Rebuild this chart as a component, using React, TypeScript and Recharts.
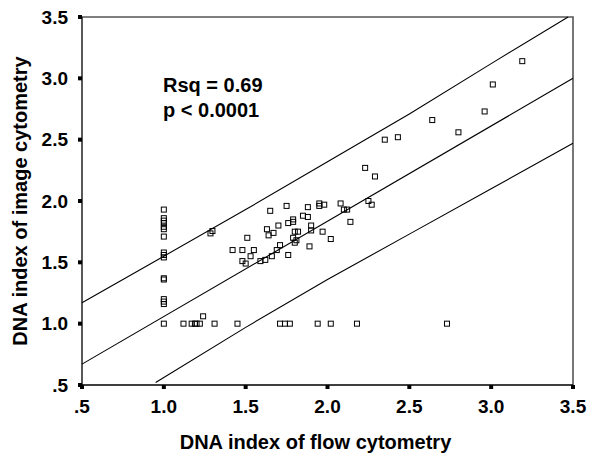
import { ScatterChart, Scatter, XAxis, YAxis } from 'recharts'

// flow cytometry DNA index (x) vs image cytometry DNA index (y)
const flowIndex = [
  1.0, 1.0, 1.0, 1.0, 1.0, 1.0, 1.0, 1.0, 1.0, 1.0, 1.0, 1.0, 1.0, 1.0, 1.0, 1.0,
  1.12, 1.17, 1.19, 1.2, 1.22, 1.31, 1.45, 1.71, 1.74, 1.77, 1.94, 2.02, 2.18, 2.73,
  1.24, 1.285, 1.297,
  1.42, 1.48, 1.55, 1.51, 1.48, 1.5, 1.53, 1.59, 1.62, 1.66, 1.69, 1.71, 1.76,
  1.63, 1.64, 1.67, 1.65, 1.7, 1.75, 1.76, 1.79, 1.79, 1.8, 1.82, 1.79, 1.81, 1.8,
  1.85, 1.88, 1.88, 1.9, 1.9, 1.89, 1.95, 1.95, 1.98, 1.97, 2.02, 2.08, 2.1, 2.12,
  2.14, 2.23, 2.29, 2.25, 2.27, 2.35, 2.43, 2.64, 2.8, 2.96, 3.01, 3.19,
]
const imageIndex = [
  1.93, 1.86, 1.84, 1.82, 1.79, 1.77, 1.71, 1.58, 1.56, 1.54, 1.37, 1.36, 1.2, 1.18, 1.16, 1.0,
  1.0, 1.0, 1.0, 1.0, 1.0, 1.0, 1.0, 1.0, 1.0, 1.0, 1.0, 1.0, 1.0, 1.0,
  1.06, 1.736, 1.755,
  1.6, 1.6, 1.6, 1.7, 1.51, 1.49, 1.55, 1.51, 1.52, 1.55, 1.6, 1.64, 1.56,
  1.77, 1.72, 1.74, 1.92, 1.8, 1.96, 1.82, 1.83, 1.85, 1.75, 1.75, 1.7, 1.68, 1.66,
  1.88, 1.87, 1.95, 1.8, 1.76, 1.63, 1.98, 1.96, 1.97, 1.75, 1.69, 1.98, 1.93, 1.93,
  1.83, 2.27, 2.2, 2.0, 1.97, 2.5, 2.52, 2.66, 2.56, 2.73, 2.95, 3.14,
]

// fit line and 95% interval lines
const fitX = [0.5, 3.5]
const fitY = [0.67, 3.0]
const upperX = [0.5, 1.0, 1.5, 2.0, 2.5, 3.0, 3.47]
const upperY = [1.17, 1.55, 1.93, 2.32, 2.71, 3.12, 3.5]
const lowerX = [0.95, 1.5, 2.0, 2.5, 3.0, 3.5]
const lowerY = [0.52, 0.97, 1.36, 1.73, 2.1, 2.47]

// plot frame corners (in data units)
const axesX = [0.5, 0.5, 3.5]
const axesY = [3.5, 0.5, 0.5]
const frameX = [0.5, 3.5, 3.5]
const frameY = [3.5, 3.5, 0.5]

const ticks = [0.5, 1.0, 1.5, 2.0, 2.5, 3.0, 3.5]
const tickLabels = ['.5', '1.0', '1.5', '2.0', '2.5', '3.0', '3.5']
const statsLines = ['Rsq = 0.69', 'p < 0.0001']

const points = flowIndex.map((x, i) => ({ x, y: imageIndex[i] }))
const toRows = (xs: number[], ys: number[]) => xs.map((x, i) => ({ x, y: ys[i] }))

const FONT = '"Liberation Sans", Arial, sans-serif'
const fmt = (v: number) => tickLabels[ticks.indexOf(v)] ?? String(v)

const XTick = (props: any) => {
  const { x, y, payload } = props
  return (
    <g>
      <rect x={x - 2} y={y - 15} width={4} height={4} fill="#000" />
      <text x={x} y={y} dy="0.71em" textAnchor="middle" fontSize={19} fontWeight="bold" fontFamily={FONT} fill="#000">
        {fmt(payload.value)}
      </text>
    </g>
  )
}

const YTick = (props: any) => {
  const { x, y, payload } = props
  return (
    <g>
      <rect x={x + 10} y={y - 2} width={4} height={4} fill="#000" />
      <text x={x} y={y} dy="0.355em" textAnchor="end" fontSize={19} fontWeight="bold" fontFamily={FONT} fill="#000">
        {fmt(payload.value)}
      </text>
    </g>
  )
}

const Square = (props: any) => {
  const { cx, cy } = props
  if (cx == null || cy == null) return <g />
  return <rect x={cx - 2.5} y={cy - 2.5} width={5} height={5} fill="none" stroke="#000" strokeWidth={1} />
}
const NoDot = () => <g />

export default function App() {
  return (
    <div style={{ position: 'absolute', left: 0, top: 0, width: 592, height: 455, background: '#fff' }}>
      <ScatterChart width={592} height={455} margin={{ top: 17, right: 19, bottom: 0, left: 0 }}>
        <XAxis
          dataKey="x"
          type="number"
          domain={[0.5, 3.5]}
          ticks={ticks}
          tick={<XTick />}
          tickSize={4}
          tickMargin={11}
          tickLine={false}
          axisLine={false}
          height={70}
          label={{
            value: 'DNA index of flow cytometry',
            position: 'insideBottom',
            offset: 6,
            dx: -12,
            style: { fill: '#000', fontSize: 20, fontWeight: 'bold', fontFamily: FONT },
          }}
        />
        <YAxis
          dataKey="y"
          type="number"
          domain={[0.5, 3.5]}
          ticks={ticks}
          tick={<YTick />}
          tickSize={4}
          tickMargin={10}
          tickLine={false}
          axisLine={false}
          width={82}
          label={{
            value: 'DNA index of image cytometry',
            angle: -90,
            position: 'insideLeft',
            offset: 20,
            style: { fill: '#000', fontSize: 20, fontWeight: 'bold', fontFamily: FONT, textAnchor: 'middle' },
          }}
        />
        {/* frame: black left/bottom axes, grey top/right border */}
        <Scatter data={toRows(frameX, frameY)} line={{ stroke: '#555', strokeWidth: 1.6 }} shape={NoDot} isAnimationActive={false} />
        <Scatter data={toRows(axesX, axesY)} line={{ stroke: '#000', strokeWidth: 1.3 }} shape={NoDot} isAnimationActive={false} />
        <Scatter data={toRows(fitX, fitY)} line={{ stroke: '#000', strokeWidth: 1.1 }} shape={NoDot} isAnimationActive={false} />
        <Scatter data={toRows(upperX, upperY)} line={{ stroke: '#000', strokeWidth: 1.1 }} shape={NoDot} isAnimationActive={false} />
        <Scatter data={toRows(lowerX, lowerY)} line={{ stroke: '#000', strokeWidth: 1.1 }} shape={NoDot} isAnimationActive={false} />
        <Scatter data={points} shape={Square} isAnimationActive={false} />
      </ScatterChart>
      <div
        style={{
          position: 'absolute',
          left: 163,
          top: 72.5,
          fontFamily: FONT,
          fontSize: 20,
          fontWeight: 'bold',
          lineHeight: '25px',
          color: '#000',
          whiteSpace: 'nowrap',
        }}
      >
        {statsLines.map(s => (
          <div key={s}>{s}</div>
        ))}
      </div>
    </div>
  )
}
